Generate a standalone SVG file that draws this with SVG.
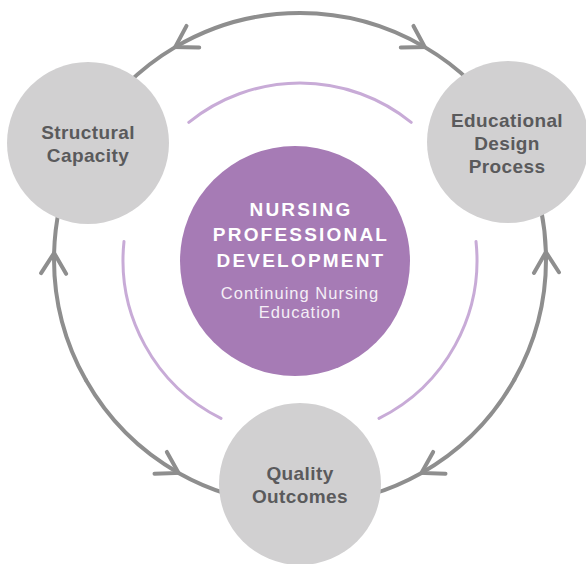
<svg xmlns="http://www.w3.org/2000/svg" width="586" height="564" viewBox="0 0 586 564">
  <defs>
    <style>
      .conn { fill: none; stroke: #8e8e8e; stroke-width: 4; stroke-linecap: round; marker-mid: url(#chev); }
      .ring { fill: none; stroke: #c8abd7; stroke-width: 3; stroke-linecap: round; }
      .node { fill: #d1d0d1; }
      .lbl { font-family: "Liberation Sans", Arial, sans-serif; font-weight: 700; font-size: 19px; fill: #5a5a5c; text-anchor: middle; letter-spacing: 0.4px; }
      .title { font-family: "Liberation Sans", Arial, sans-serif; font-weight: 700; font-size: 19px; fill: #ffffff; text-anchor: middle; letter-spacing: 2.2px; }
      .sub { font-family: "Liberation Sans", Arial, sans-serif; font-weight: 400; font-size: 16.5px; fill: #f4eef6; text-anchor: middle; letter-spacing: 1px; }
    </style>
    <marker id="chev" markerUnits="userSpaceOnUse" markerWidth="40" markerHeight="40" refX="0" refY="0" viewBox="-30 -20 40 40" orient="auto" overflow="visible">
      <path d="M -20.5,-12.5 L 0,0 L -20.5,12.5" fill="none" stroke="#8e8e8e" stroke-width="4" stroke-linecap="round" stroke-linejoin="miter"/>
    </marker>
  </defs>
  <rect width="586" height="564" fill="#ffffff"/>

  <g id="rings">
    <path class="ring" d="M 188.8,122.3 A 177 177 0 0 1 411.2,122.3"/>
    <path class="ring" d="M 124.0,241.5 A 177 177 0 0 0 221.0,418.4"/>
    <path class="ring" d="M 476.0,241.5 A 177 177 0 0 1 379.0,418.4"/>
  </g>

  <g id="connectors">
    <!-- top: Structural Capacity <-> Educational Design Process -->
    <path class="conn" d="M 300,13 A 246 246 0 0 0 175.2,47.1 A 246 246 0 0 0 125.4,85.7"/>
    <path class="conn" d="M 300,13 A 246 246 0 0 1 424.8,47.1 A 246 246 0 0 1 471.5,82.6"/>
    <!-- left: Structural Capacity <-> Quality Outcomes -->
    <path class="conn" d="M 85.9,380.1 A 246 246 0 0 1 54.1,253.0 A 246 246 0 0 1 59.5,207.4"/>
    <path class="conn" d="M 85.9,380.1 A 246 246 0 0 0 178.5,472.9 A 246 246 0 0 0 229.3,494.6"/>
    <!-- right: Educational Design Process <-> Quality Outcomes -->
    <path class="conn" d="M 514.3,379.8 A 246 246 0 0 0 545.9,252.1 A 246 246 0 0 0 541.2,210.4"/>
    <path class="conn" d="M 514.3,379.8 A 246 246 0 0 1 421.5,472.9 A 246 246 0 0 1 370.3,494.7"/>
  </g>

  <g id="core">
    <circle cx="295" cy="261" r="115" fill="#a67bb5"/>
    <text class="title" x="301" y="216">NURSING</text>
    <text class="title" x="301" y="241">PROFESSIONAL</text>
    <text class="title" x="301" y="267">DEVELOPMENT</text>
    <text class="sub" x="300" y="299">Continuing Nursing</text>
    <text class="sub" x="300" y="318">Education</text>
  </g>

  <g id="structural-capacity">
    <circle class="node" cx="88" cy="143" r="81"/>
    <text class="lbl" x="88" y="139">Structural</text>
    <text class="lbl" x="88" y="162">Capacity</text>
  </g>

  <g id="educational-design-process">
    <circle class="node" cx="508" cy="142" r="81"/>
    <text class="lbl" x="507" y="127">Educational</text>
    <text class="lbl" x="507" y="150">Design</text>
    <text class="lbl" x="507" y="173">Process</text>
  </g>

  <g id="quality-outcomes">
    <circle class="node" cx="300" cy="484" r="81"/>
    <text class="lbl" x="300" y="480">Quality</text>
    <text class="lbl" x="300" y="503">Outcomes</text>
  </g>
</svg>
